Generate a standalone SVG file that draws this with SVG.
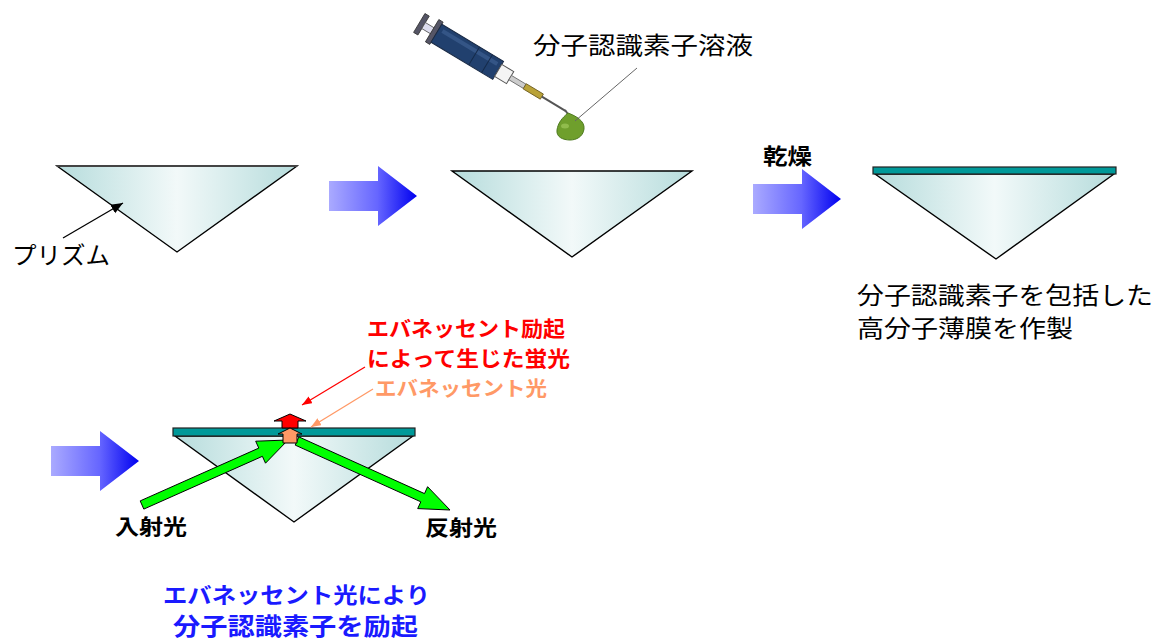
<svg xmlns="http://www.w3.org/2000/svg" width="1158" height="641" viewBox="0 0 1158 641">
  <style>
    .jp { font-family: "Noto Sans CJK JP", "Noto Sans CJK SC", sans-serif; }
    .lbl { font-size: 24px; fill: #000; }
    .bold { font-weight: bold; }
    .prism { fill: url(#glass); stroke: #000; stroke-width: 1.4; stroke-linejoin: miter; }
    .film { fill: #009999; stroke: #222; stroke-width: 1.2; }
    .beam { fill: #00ff00; stroke: #000; stroke-width: 1; stroke-linejoin: miter; }
    .lead { fill: none; stroke-width: 1.3; }
  </style>
  <defs>
    <linearGradient id="glass" x1="0" y1="0" x2="1" y2="0">
      <stop offset="0" stop-color="#b6dcdc"/>
      <stop offset="0.5" stop-color="#f2f9f9"/>
      <stop offset="1" stop-color="#b6dcdc"/>
    </linearGradient>
    <linearGradient id="flowGrad" x1="0" y1="0" x2="1" y2="0">
      <stop offset="0" stop-color="#aaaaff"/>
      <stop offset="0.55" stop-color="#6666ff"/>
      <stop offset="1" stop-color="#0000f0"/>
    </linearGradient>
    <path id="flowArrow" d="M0,15 H49 V0 L88,30 L49,60 V45 H0 Z" fill="url(#flowGrad)"/>
    <marker id="headBlack" markerUnits="userSpaceOnUse" markerWidth="14" markerHeight="12" refX="12" refY="5" orient="auto">
      <path d="M0,0 L12,5 L0,10 Z" fill="#000"/>
    </marker>
    <marker id="headRed" markerUnits="userSpaceOnUse" markerWidth="12" markerHeight="10" refX="10" refY="4" orient="auto">
      <path d="M0,0 L10,4 L0,8 Z" fill="#ff0000"/>
    </marker>
    <marker id="headOrange" markerUnits="userSpaceOnUse" markerWidth="12" markerHeight="10" refX="10" refY="4" orient="auto">
      <path d="M0,0 L10,4 L0,8 Z" fill="#ff9966"/>
    </marker>
  </defs>

  <rect width="1158" height="641" fill="#fff"/>

  <!-- step 1: bare prism -->
  <g id="prism-bare">
    <polygon class="prism" points="57,166 297,166 177,252"/>
    <line x1="57" y1="166" x2="297" y2="166" stroke="#444" stroke-width="2"/>
    <text class="jp lbl" x="12" y="264" textLength="98" lengthAdjust="spacingAndGlyphs">プリズム</text>
  </g>

  <!-- step 2: solution dropped onto prism -->
  <g id="prism-drop">
    <polygon class="prism" points="452,171 692,171 572,257"/>
  </g>

  <g id="syringe">
    <g transform="translate(421,24) rotate(31)">
      <!-- plunger -->
      <rect x="-2" y="-11" width="5" height="22" fill="#556" stroke="#333" stroke-width="0.8"/>
      <rect x="3" y="-3.5" width="11" height="7" fill="#dde" stroke="#555" stroke-width="0.8"/>
      <rect x="13" y="-13" width="5" height="26" fill="#556" stroke="#333" stroke-width="0.8"/>
      <!-- barrel -->
      <rect x="18" y="-10.5" width="72" height="21" fill="#21406e" stroke="#1a2a44" stroke-width="1"/>
      <rect x="22" y="-7" width="64" height="4" fill="#3a5a8c" opacity="0.8"/>
      <line x1="62" y1="-10.5" x2="62" y2="10.5" stroke="#152a4a" stroke-width="1"/>
      <line x1="77" y1="-10.5" x2="77" y2="10.5" stroke="#152a4a" stroke-width="1"/>
      <!-- tip -->
      <rect x="90" y="-7" width="14" height="14" fill="#f4f4f4" stroke="#555" stroke-width="1"/>
      <rect x="104" y="-2.5" width="17" height="5" fill="#ccc" stroke="#666" stroke-width="0.8"/>
      <!-- needle hub and needle -->
      <rect x="121" y="-3" width="20" height="6" fill="#b9a238" stroke="#6b5a20" stroke-width="0.8"/>
      <line x1="141" y1="0" x2="169" y2="0" stroke="#555" stroke-width="2"/>
    </g>
    <path d="M565,110 L570,117" stroke="#555" stroke-width="2" fill="none"/>
    <!-- droplet -->
    <path d="M568,113 C576,116 585,121 584,129 C583,137 576,140 570,140 C563,140 556,137 557,130 C558,123 562,118 568,113 Z" fill="#6f9f2c" stroke="#4d7a1e" stroke-width="1"/>
    <ellipse cx="565" cy="126" rx="4" ry="2.5" fill="#98c355" opacity="0.8"/>
    <line x1="637" y1="68" x2="575" y2="121" stroke="#666" stroke-width="1"/>
    <text class="jp lbl" x="533" y="54" textLength="220" lengthAdjust="spacingAndGlyphs">分子認識素子溶液</text>
  </g>

  <!-- step 3: dried polymer film on prism -->
  <g id="prism-film">
    <polygon class="prism" points="875,174 1114,174 996,259"/>
    <rect class="film" x="873" y="167" width="243" height="7"/>
    <text class="jp lbl" x="857" y="304" textLength="296" lengthAdjust="spacingAndGlyphs">分子認識素子を包括した</text>
    <text class="jp lbl" x="857" y="337" textLength="216" lengthAdjust="spacingAndGlyphs">高分子薄膜を作製</text>
  </g>

  <!-- step 4: evanescent excitation -->
  <g id="prism-excite">
    <polygon class="prism" points="175,436 413,436 294,522"/>
    <polygon class="beam" points="143.8,509.1 140.2,500.9 258.8,448.1 255.7,441.2 288,440 265.5,463.2 262.4,456.3"/>
    <polygon class="beam" points="298.9,436.9 424.5,493.6 427.6,486.7 450,510 417.7,508.6 420.8,501.8 295.2,445.1"/>
    <rect class="film" x="173" y="428" width="242" height="8"/>
    <polygon points="290,414 306,421 298,421 298,428 282,428 282,421 274,421" fill="#ff0000" stroke="#000" stroke-width="1"/>
    <polygon points="290,428 302,434 297,434 297,443 283,443 283,434 278,434" fill="#ff9966" stroke="#000" stroke-width="1"/>
    <text class="jp lbl bold" x="115" y="534" style="font-size:21px" textLength="72" lengthAdjust="spacingAndGlyphs">入射光</text>
    <text class="jp lbl bold" x="425" y="535" style="font-size:21px" textLength="72" lengthAdjust="spacingAndGlyphs">反射光</text>
  </g>

  <g id="labels-excite">
    <text class="jp bold" x="367" y="336" fill="#ff0000" style="font-size:21px" textLength="198" lengthAdjust="spacingAndGlyphs">エバネッセント励起</text>
    <text class="jp bold" x="367" y="366" fill="#ff0000" style="font-size:21px" textLength="203" lengthAdjust="spacingAndGlyphs">によって生じた蛍光</text>
    <text class="jp bold" x="375" y="396" fill="#ff9966" style="font-size:20px" textLength="172" lengthAdjust="spacingAndGlyphs">エバネッセント光</text>
    <text class="jp bold" x="163" y="603" fill="#1a1aff" style="font-size:22px" textLength="267" lengthAdjust="spacingAndGlyphs">エバネッセント光により</text>
    <text class="jp bold" x="173" y="635" fill="#1a1aff" style="font-size:24px" textLength="245" lengthAdjust="spacingAndGlyphs">分子認識素子を励起</text>
  </g>

  <!-- connectors: process flow arrows and leader lines -->
  <g id="connectors">
    <use href="#flowArrow" transform="translate(329,166)"/>
    <use href="#flowArrow" transform="translate(753,169)"/>
    <use href="#flowArrow" transform="translate(51,431)"/>
    <text class="jp lbl bold" x="763" y="164" style="font-size:22px" textLength="49" lengthAdjust="spacingAndGlyphs">乾燥</text>
    <line class="lead" x1="63" y1="238" x2="123" y2="203" stroke="#000" marker-end="url(#headBlack)"/>
    <line class="lead" x1="365" y1="367" x2="302" y2="405" stroke="#ff0000" marker-end="url(#headRed)"/>
    <line class="lead" x1="373" y1="389" x2="311" y2="427" stroke="#ff9966" marker-end="url(#headOrange)"/>
  </g>
</svg>
